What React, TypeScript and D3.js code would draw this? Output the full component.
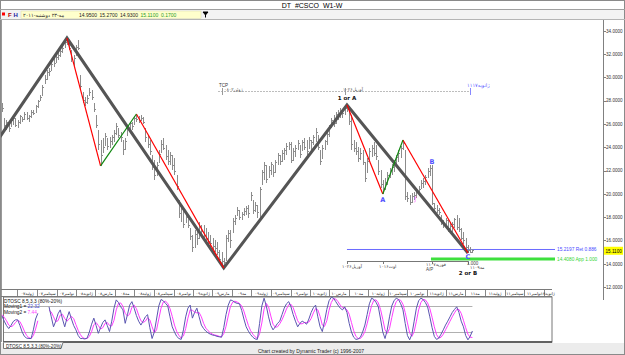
import React from "react";
import * as d3 from "d3";

const W = 625;
const H = 355;

// weekly bars (CSCO, weekly)
const startDate = new Date(2007, 4, 14);
const highs = [
  27.79, 26.51, 26.33, 26.16, 26.51, 26.76, 26.51, 26.33, 26.76, 26.59,
  27.02, 27.02, 26.76, 27.19, 27.19, 27.62, 28.05, 28.48, 29.34, 30.2,
  30.63, 30.8, 31.31, 31.66, 31.91, 32.17, 32.34, 32.69, 33.2, 33.37,
  33.03, 32.34, 31.91, 32.77, 33.2, 30.2, 28.74, 28.31, 28.48, 29.08,
  28.91, 27.79, 26.76, 25.48, 24.62, 24.79, 25.22, 24.79, 24.88, 25.05,
  25.48, 26.08, 25.65, 25.3, 24.62, 24.79, 25.65, 26.16, 26.16, 26.68,
  26.85, 26.68, 26.76, 26.59, 25.65, 25.05, 24.62, 23.33, 22.9, 22.73,
  23.76, 24.62, 24.79, 24.19, 23.76, 23.59, 23.33, 23.07, 21.61, 19.47,
  19.04, 18.61, 18.44, 17.92, 17.06, 16.46, 16.89, 17.06, 17.58, 17.32,
  17.32, 17.06, 16.72, 16.46, 16.21, 16.03, 15.86, 15.18, 15.0, 14.49,
  16.46, 16.89, 16.89, 17.92, 18.18, 18.87, 18.61, 18.44, 18.78, 18.95,
  19.04, 20.16, 19.47, 19.3, 19.04, 20.58, 22.04, 22.73, 22.47, 22.39,
  22.73, 22.47, 22.9, 23.5, 23.33, 23.76, 23.93, 24.36, 24.45, 24.45,
  23.93, 24.19, 24.62, 24.19, 24.62, 24.79, 24.62, 24.88, 24.62, 25.05,
  25.65, 25.05, 23.76, 24.19, 24.62, 25.3, 25.91, 26.51, 26.76, 27.02,
  27.19, 27.36, 27.19, 27.54, 27.62, 27.36, 26.76, 24.62, 24.45, 24.02,
  23.93, 23.76, 22.73, 23.07, 23.93, 24.19, 24.45, 24.19, 22.9, 22.04,
  21.18, 21.36, 21.87, 22.21, 22.56, 22.9, 23.33, 23.76, 24.1, 24.62,
  23.76, 20.16, 19.9, 20.07, 20.16, 20.33, 20.67, 21.18, 21.36, 21.61,
  22.21, 22.47, 22.47, 19.21, 19.04, 18.78, 18.18, 17.75, 17.92, 17.75,
  17.58, 17.58, 17.92, 18.18, 17.92, 17.06, 16.72, 16.21, 15.61, 15.43,
  15.27,
];
const lows = [
  27.02, 25.65, 25.48, 25.3, 25.82, 25.91, 25.73, 25.65, 25.99, 26.16,
  26.33, 26.33, 26.16, 26.51, 26.76, 26.94, 27.36, 28.05, 28.48, 29.51,
  29.77, 30.11, 30.63, 30.88, 31.31, 31.49, 31.74, 32.09, 32.52, 32.77,
  32.34, 31.31, 30.97, 31.91, 32.34, 28.91, 27.79, 27.54, 27.71, 28.4,
  28.05, 27.02, 25.65, 23.76, 22.39, 23.59, 24.19, 23.76, 23.93, 24.19,
  24.45, 25.05, 24.79, 24.45, 23.33, 23.76, 25.05, 25.65, 25.48, 25.91,
  26.16, 26.08, 26.25, 25.99, 24.45, 23.93, 23.33, 22.04, 21.18, 21.61,
  22.73, 23.59, 23.76, 22.9, 22.47, 22.47, 22.04, 21.61, 20.33, 17.92,
  17.58, 17.06, 17.58, 17.06, 16.03, 15.0, 15.35, 15.61, 16.21, 16.46,
  16.03, 15.86, 15.61, 15.35, 15.18, 15.0, 14.75, 14.14, 13.89, 13.63,
  14.32, 15.86, 15.35, 16.72, 17.32, 18.18, 17.75, 17.75, 18.09, 18.18,
  17.92, 19.47, 18.27, 18.44, 17.92, 17.75, 20.76, 21.18, 20.93, 21.44,
  21.61, 21.44, 21.87, 22.47, 22.47, 22.73, 22.9, 23.33, 23.76, 22.64,
  22.9, 23.16, 23.76, 23.07, 23.76, 23.76, 23.33, 23.93, 23.76, 24.19,
  24.45, 23.76, 22.47, 23.07, 23.76, 24.19, 24.88, 25.65, 25.73, 25.99,
  26.33, 26.51, 26.51, 26.76, 27.02, 25.91, 23.76, 23.59, 23.33, 22.73,
  22.9, 22.47, 21.01, 21.87, 22.9, 23.16, 23.24, 22.9, 21.61, 20.5,
  19.98, 20.33, 20.76, 21.36, 21.61, 21.87, 22.39, 22.73, 23.07, 23.76,
  19.47, 19.3, 19.04, 19.21, 19.47, 19.64, 19.81, 20.5, 20.5, 20.76,
  21.36, 21.53, 19.04, 18.44, 18.35, 18.18, 17.32, 17.06, 17.24, 16.72,
  16.63, 16.72, 17.06, 16.89, 16.72, 16.03, 15.69, 15.18, 14.92, 14.92,
  14.93,
];
const closes = [
  27.3, 25.9, 26.1, 25.6, 26.3, 26.5, 25.9, 26.1, 26.6, 26.4,
  26.8, 26.5, 26.6, 27.0, 26.9, 27.5, 27.9, 28.3, 29.1, 29.8,
  30.4, 30.5, 31.1, 31.2, 31.7, 31.9, 32.2, 32.5, 33.0, 32.9,
  32.5, 31.5, 31.6, 32.6, 32.5, 29.2, 28.0, 27.8, 28.2, 28.7,
  28.3, 27.2, 25.9, 24.2, 23.3, 24.0, 24.9, 24.1, 24.5, 24.8,
  25.2, 25.8, 25.0, 24.8, 23.8, 24.5, 25.5, 26.0, 25.8, 26.5,
  26.4, 26.3, 26.5, 26.1, 24.8, 24.2, 23.6, 22.3, 21.6, 22.4,
  23.4, 24.2, 23.9, 23.2, 22.8, 23.3, 22.4, 21.9, 20.6, 18.3,
  18.7, 17.4, 18.0, 17.3, 16.3, 15.4, 16.5, 16.2, 17.2, 16.8,
  16.4, 16.2, 15.9, 15.7, 15.5, 15.3, 15.0, 14.4, 14.2, 14.1,
  16.2, 16.6, 16.0, 17.6, 17.9, 18.6, 18.0, 18.2, 18.5, 18.7,
  18.3, 19.9, 18.6, 19.0, 18.4, 20.4, 21.8, 22.4, 21.2, 22.0,
  22.5, 21.8, 22.7, 23.3, 22.8, 23.5, 23.7, 24.1, 24.2, 22.9,
  23.6, 23.9, 24.3, 23.4, 24.4, 24.0, 23.6, 24.6, 24.4, 24.8,
  25.3, 24.0, 22.8, 23.9, 24.5, 25.1, 25.7, 26.3, 26.0, 26.8,
  26.7, 27.1, 26.9, 27.3, 27.2, 26.2, 24.2, 23.9, 23.6, 23.0,
  23.5, 22.7, 21.3, 22.8, 23.6, 23.9, 23.5, 23.2, 21.9, 20.8,
  20.5, 21.0, 21.6, 22.0, 22.3, 22.7, 23.1, 23.5, 23.9, 24.3,
  19.8, 19.6, 19.3, 19.8, 19.9, 20.1, 20.4, 20.9, 21.1, 21.4,
  21.9, 22.2, 19.2, 18.7, 18.6, 18.4, 17.5, 17.3, 17.7, 17.0,
  17.2, 17.4, 17.8, 17.1, 16.9, 16.2, 16.0, 15.4, 15.1, 14.95,
  15.11,
];

// DTOSC 8,5,3,3 lines
const moving1: (number | null)[] = [
  57, 45, 35, 28, 35, 44, 48, 48, 35, 20, 10, 6, 5, 5, 25, 50, 63, null, null, null,
  null, 78, 55, 32, 45, 62, 71, 50, 32, 52, 67, 50, 35, 25, 12, 5, 5, 4, 6, 20,
  38, 52, 35, 17, 30, 42, 48, 35, 21, 45, 75, 94, 88, 78, 71, 40, 60, 82, 90, 75,
  58, 45, 36, 45, 55, 60, 30, 5, 20, 50, 80, 95, 92, 86, 80, 55, 32, 20, 10, 5,
  3, 25, 55, 75, 82, 52, 65, 75, 55, 36, 28, 22, 18, 15, 13, 12, 10, 9, 8, 30,
  60, 82, 94, 92, 88, 86, 85, 70, 50, 32, 22, 14, 8, 4, 3, 40, 80, 98, 80, 55,
  35, 25, 32, 40, 45, 60, 75, 85, 90, 78, 60, 45, 32, 40, 45, 42, 38, 50, 65, 76,
  82, 55, 32, 21, 45, 72, 92, 100, 98, 90, 82, 75, 71, 78, 65, 40, 20, 8, 3, 4,
  8, 20, 36, 60, 85, 98, 95, 88, 78, 50, 20, 5, 25, 55, 80, 92, 98, 95, 85, 71,
  40, 12, 2, 15, 45, 75, 92, 98, 95, 88, 78, 55, 30, 10, 3, 6, 15, 25, 36, 45,
  55, 65, 72, 78, 65, 45, 32, 12, 2, 10, 22.32,
];
const moving2: (number | null)[] = [
  60, 54, 46, 36, 32, 35, 42, 47, 44, 34, 22, 12, 7, 5, 12, 27, 46, null, null, null,
  null, 70, 66, 55, 44, 46, 59, 61, 51, 45, 50, 56, 51, 37, 24, 14, 7, 5, 5, 10,
  21, 37, 42, 35, 27, 30, 40, 42, 35, 34, 47, 71, 86, 87, 79, 63, 57, 61, 77, 82,
  74, 59, 46, 42, 45, 53, 48, 32, 18, 25, 50, 75, 89, 91, 86, 74, 56, 36, 21, 12,
  6, 11, 28, 52, 71, 70, 66, 64, 65, 55, 40, 29, 23, 18, 15, 13, 12, 10, 9, 16,
  33, 57, 79, 89, 91, 89, 86, 80, 68, 51, 35, 23, 15, 9, 5, 16, 41, 73, 86, 78,
  57, 38, 31, 32, 39, 48, 60, 73, 83, 84, 76, 61, 46, 39, 39, 42, 42, 43, 51, 64,
  74, 71, 56, 36, 33, 46, 70, 88, 97, 96, 90, 82, 76, 75, 71, 61, 42, 23, 10, 5,
  5, 11, 21, 39, 60, 81, 93, 94, 87, 72, 49, 25, 17, 28, 53, 76, 90, 95, 93, 84,
  65, 41, 18, 10, 21, 45, 71, 88, 95, 94, 87, 74, 54, 32, 14, 6, 8, 15, 25, 35,
  45, 55, 64, 72, 72, 63, 47, 30, 15, 8, 7.44,
];

const priceTicks = [34, 32, 30, 28, 26, 24, 22, 20, 18, 16, 14, 12];
const monthNamesFa = [
  "ژانویه", "فوریه", "مارس", "آوریل", "مه", "ژوئن",
  "ژوئیه", "اوت", "سپتامبر", "اکتبر", "نوامبر", "دسامبر",
];

// swing lines: [bar index, price]
const zigzag: [number, number][] = [[-1, 24.87], [29, 33.37], [99, 13.63], [154, 27.62], [208, 14.92]];
const redLegs: [number, number][][] = [
  [[29, 33.37], [44, 22.39]],
  [[60, 26.85], [99, 13.63]],
  [[154, 27.62], [170, 19.98]],
  [[179, 24.62], [208, 14.92]],
];
const greenLegs: [number, number][][] = [
  [[44, 22.39], [60, 26.85]],
  [[170, 19.98], [179, 24.62]],
];
const retLevel = 15.2197;
const appLevel = 14.408;
const lastClose = 15.11;
const quote = ["14.9500", "15.2700", "14.9300", "15.1100", "0.1700"];

const FONT = "'DejaVu Sans', sans-serif";
const NUM = "'Liberation Sans', Arial, sans-serif";

export default function App() {
  const n = highs.length;
  const x = d3.scaleLinear().domain([0, n - 1]).range([2, 472.4]);
  const y = d3.scaleLinear().domain([12, 34]).range([287, 30.7]);
  const yo = d3.scaleLinear().domain([0, 100]).range([340.7, 297.3]);
  const dateAt = (i: number) => d3.timeWeek.offset(startDate, i);
  const xt = d3.scaleTime().domain([dateAt(0), dateAt(n - 1)]).range(x.range());
  const monthTicks = d3.timeMonth.every(2)!.range(dateAt(0), xt.invert(545));

  const bars = highs
    .map((h, i) => {
      const xi = Math.round(x(i)) + 0.5;
      const l = lows[i];
      let o = i === 0 ? closes[0] : closes[i - 1];
      o = Math.max(l, Math.min(h, o));
      return `M${xi},${y(h).toFixed(1)}V${y(l).toFixed(1)}M${xi - 1},${y(o).toFixed(1)}H${xi}M${xi},${y(closes[i]).toFixed(1)}H${xi + 1}`;
    })
    .join("");

  const pl = d3
    .line<[number, number]>()
    .x((d) => x(d[0]))
    .y((d) => y(d[1]));
  const ol = d3
    .line<number | null>()
    .defined((d) => d != null)
    .x((_, i) => x(i))
    .y((d) => yo(d as number));

  const toFa = (s: string) => s.replace(/\d/g, (c) => "۰۱۲۳۴۵۶۷۸۹"[+c]);

  return (
    <svg width={W} height={H} style={{ position: "absolute", left: 0, top: 0, background: "#fff" }} fontFamily={FONT}>
      <defs>
        <clipPath id="plot">
          <rect x={1} y={20} width={602} height={269} />
        </clipPath>
      </defs>
      {/* window chrome */}
      <rect x={0.5} y={0.5} width={W - 1} height={H - 1} fill="#fff" stroke="#8a8a8a" />
      <text x={312} y={7.5} fontSize={7} textAnchor="middle" fill="#000" fontFamily={NUM}>DT_#CSCO_W1-W</text>
      <line x1={0} x2={W} y1={9.5} y2={9.5} stroke="#a0a0a0" />
      <rect x={1} y={10} width={W - 2} height={9} fill="#f3f3f3" />
      <line x1={0} x2={W} y1={19.5} y2={19.5} stroke="#b5b5b5" />
      <rect x={2} y={12.5} width={3} height={3} fill="#ff0000" />
      <text x={8} y={17} fontSize={6} fill="#b00000" fontWeight="bold" fontFamily={NUM}>F</text>
      <text x={13.5} y={17} fontSize={6} fill="#1a1aa0" fontWeight="bold" fontFamily={NUM}>H</text>
      <rect x={21} y={11} width={180} height={7.5} fill="#ffffcc" stroke="#d8d8b0" strokeWidth={0.5} />
      <text x={23} y={17} fontSize={5} fill="#222">{"۲۰۱۱-مه-۲۳ دوشنبه"}</text>
      {quote.map((q, k) => (
        <text key={q + k} x={79 + k * 20.5} y={17} fontSize={5} fill={k >= 3 ? "#2a9a2a" : "#222"} fontFamily={NUM}>
          {q}
        </text>
      ))}
      <path d="M203,12 h5 l-2.5,3 z M205.5,15 v2.5" stroke="#000" fill="#000" strokeWidth={1} />

      {/* panel borders */}
      <line x1={1.5} x2={1.5} y1={20} y2={342} stroke="#9a9a9a" />
      <line x1={603.5} x2={603.5} y1={20} y2={300} stroke="#808080" />

      {/* price axis */}
      {priceTicks.map((p) => (
        <g key={p}>
          <line x1={603.5} x2={606} y1={Math.round(y(p)) + 0.5} y2={Math.round(y(p)) + 0.5} stroke="#808080" />
          <text x={606} y={y(p) + 1.8} fontSize={4.6} fill="#333" fontFamily={NUM}>
            {p.toFixed(4)}
          </text>
        </g>
      ))}
      <rect x={604} y={y(lastClose) - 4} width={19} height={8} fill="#ffff00" />
      <text x={605.5} y={y(lastClose) + 1.8} fontSize={4.6} fill="#000" fontFamily={NUM}>
        {lastClose.toFixed(4)}
      </text>

      {/* time projection line */}
      <line x1={218} x2={470} y1={91.5} y2={91.5} stroke="#bdbdbd" strokeDasharray="2,1" />
      <line x1={222.5} x2={222.5} y1={88} y2={95} stroke="#999" />
      <line x1={345.5} x2={345.5} y1={88} y2={95} stroke="#999" />
      <line x1={470.5} x2={470.5} y1={88} y2={95} stroke="#8888ff" />
      <text x={219} y={86.5} fontSize={4.5} fill="#333" fontFamily={NUM}>TCP</text>
      <text x={224} y={91} fontSize={4.5} fill="#555">{"۰۸ژوئن۰۲"}</text>
      <text x={343} y={91} fontSize={4.5} fill="#555">{"۱۰آوریل۲۶"}</text>
      <text x={467} y={87} fontSize={5} fill="#6060ff">{"۱۱ژانویه۱۷"}</text>

      {/* level lines */}
      <line x1={x(154)} x2={555} y1={y(retLevel)} y2={y(retLevel)} stroke="#6b6bff" strokeWidth={1} />
      <text x={557} y={y(retLevel) + 1.8} fontSize={4.8} fill="#4a4aff" fontFamily={NUM}>{`${retLevel.toFixed(4)} Ret 0.886`}</text>
      <line x1={x(191.5)} x2={555} y1={y(appLevel)} y2={y(appLevel)} stroke="#3ee03e" strokeWidth={3} />
      <text x={557} y={y(appLevel) + 1.8} fontSize={4.8} fill="#36d436" fontFamily={NUM}>{`${appLevel.toFixed(4)} App 1.000`}</text>

      {/* time bracket */}
      <g stroke="#777" strokeWidth={1}>
        <line x1={x(154)} x2={x(208)} y1={261.5} y2={261.5} />
        {[154, 170, 192, 208].map((i) => (
          <line key={i} x1={Math.round(x(i)) + 0.5} x2={Math.round(x(i)) + 0.5} y1={261.5} y2={264} />
        ))}
      </g>
      <text x={342} y={268} fontSize={4.5} fill="#444">{"۱۰آوریل۲۶"}</text>
      <text x={379} y={268} fontSize={4.5} fill="#444">{"۱۰اوت۱۶"}</text>
      <text x={426} y={266} fontSize={4.5} fill="#444">{"۱۱فوریه۰۷"}</text>
      <text x={426} y={270.5} fontSize={4.5} fill="#444" fontFamily={NUM}>A/P</text>
      <text x={467} y={265} fontSize={4.5} fill="#444" fontFamily={NUM}>1.000</text>
      <text x={470} y={269} fontSize={4.5} fill="#444">{"۱۱مه۰۹"}</text>

      {/* price bars */}
      <g clipPath="url(#plot)">
        <path d={bars} stroke="#8c8c8c" strokeWidth={1} fill="none" shapeRendering="crispEdges" />
        <path d={pl(zigzag) || ""} stroke="#555" strokeWidth={3} fill="none" strokeLinejoin="miter" />
        {redLegs.map((seg, k) => (
          <path key={"r" + k} d={pl(seg) || ""} stroke="#ff0000" strokeWidth={1.2} fill="none" />
        ))}
        {greenLegs.map((seg, k) => (
          <path key={"g" + k} d={pl(seg) || ""} stroke="#118811" strokeWidth={1.2} fill="none" />
        ))}
      </g>

      {/* pattern labels */}
      <text x={x(154)} y={100} fontSize={5.5} fontWeight="bold" textAnchor="middle" fill="#111">1 or A</text>
      <text x={x(170)} y={y(19.98) + 7.5} fontSize={6.5} fontWeight="bold" textAnchor="middle" fill="#5050ff">A</text>
      <text x={x(192)} y={y(22.47) - 1.5} fontSize={6.5} fontWeight="bold" textAnchor="middle" fill="#5050ff">B</text>
      <text x={x(208)} y={y(14.92) + 6.5} fontSize={6.5} fontWeight="bold" textAnchor="middle" fill="#5050ff">C</text>
      <text x={x(208)} y={275} fontSize={5.5} fontWeight="bold" textAnchor="middle" fill="#111">2 or B</text>
      <text x={x(184)} y={y(19.47) + 1} fontSize={6} fill="#ff66ff">ƒ</text>

      {/* date strip */}
      <line x1={1} x2={552} y1={289.5} y2={289.5} stroke="#7a7a7a" />
      <line x1={1} x2={552} y1={296.5} y2={296.5} stroke="#7a7a7a" />
      {monthTicks.map((d, k) => {
        const tx = Math.round(xt(d)) + 0.5;
        const next = k + 1 < monthTicks.length ? xt(monthTicks[k + 1]) : Math.min(551, tx + 19.5);
        return (
          <g key={k}>
            <line x1={tx} x2={tx} y1={290} y2={296} stroke="#888" />
            <text x={(tx + next) / 2} y={295} fontSize={4.1} textAnchor="middle" fill="#222">
              {monthNamesFa[d.getMonth()] + toFa(String(d.getFullYear() % 100).padStart(2, "0"))}
            </text>
          </g>
        );
      })}

      {/* indicator panel */}
      <rect x={3.5} y={297} width={548.5} height={45} fill="#fff" stroke="#777" />
      <line x1={3.5} x2={552} y1={342} y2={342} stroke="#444" strokeWidth={1.5} />
      <line x1={4} x2={x(n - 1)} y1={Math.round(yo(80)) + 0.5} y2={Math.round(yo(80)) + 0.5} stroke="#b0b0b0" />
      <line x1={4} x2={x(n - 1)} y1={Math.round(yo(20)) + 0.5} y2={Math.round(yo(20)) + 0.5} stroke="#b0b0b0" />
      <path d={ol(moving2) || ""} stroke="#ff3cff" strokeWidth={1} fill="none" />
      <path d={ol(moving1) || ""} stroke="#5a55b0" strokeWidth={1} fill="none" />
      <text x={4} y={302.5} fontSize={4.8} fill="#111" fontFamily={NUM}>DTOSC 8,5,3,3 (80%-20%)</text>
      <text x={4} y={308} fontSize={4.8} fill="#111" fontFamily={NUM}>
        Moving1 = <tspan fill="#4a4ad0">22.32</tspan>
      </text>
      <text x={4} y={313.5} fontSize={4.8} fill="#111" fontFamily={NUM}>
        Moving2 = <tspan fill="#ff3cff">7.44</tspan>
      </text>

      {/* bottom tab & credit */}
      <rect x={1} y={343} width={W - 2} height={11} fill="#ececec" />
      <path d="M3.5,342.5 V348.5 H61 L63,342.5" fill="#fff" stroke="#777" />
      <text x={6} y={347.5} fontSize={4.6} fill="#222" fontFamily={NUM}>DTOSC 8,5,3,3 (80%-20%)</text>
      <text x={311} y={352.5} fontSize={5} textAnchor="middle" fill="#222" fontFamily={NUM}>
        Chart created by Dynamic Trader  (c) 1996-2007
      </text>
    </svg>
  );
}
